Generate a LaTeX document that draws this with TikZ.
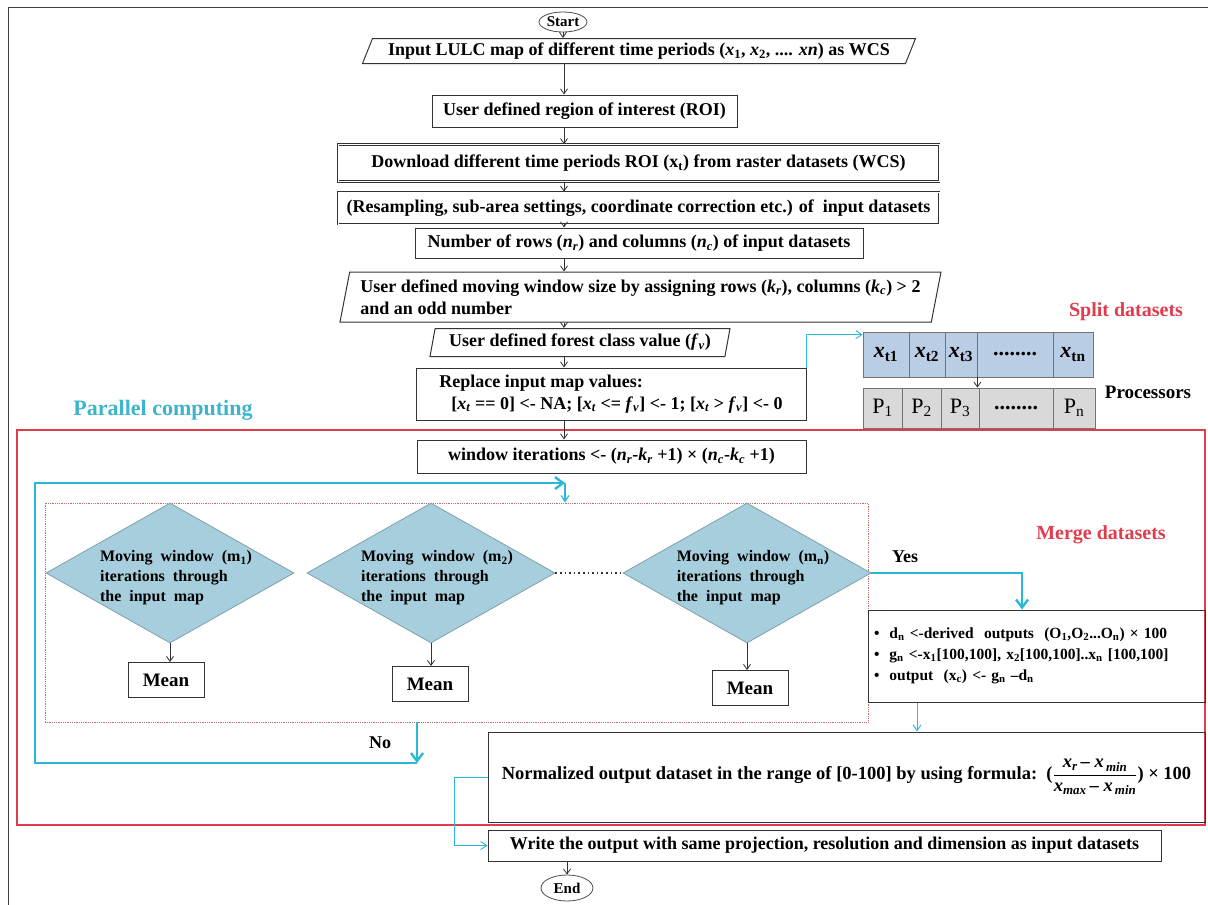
\documentclass[tikz,border=0pt]{standalone}
\usepackage{fontspec}
\setmainfont{Liberation Serif}
\usetikzlibrary{shapes.geometric,arrows.meta}
\definecolor{redline}{RGB}{224,60,76}
\definecolor{cyanline}{RGB}{43,183,214}
\definecolor{cyantext}{RGB}{60,180,205}
\definecolor{diafill}{RGB}{166,206,221}
\definecolor{diadraw}{RGB}{125,160,172}
\definecolor{splitfill}{RGB}{185,205,229}
\definecolor{procfill}{RGB}{217,217,217}
\definecolor{innerline}{RGB}{190,110,110}
\newcommand{\iv}[2]{\textit{#1}\textsubscript{\textit{#2}}}

\begin{document}
\begin{tikzpicture}[x=1pt, y=-1pt,
  every node/.style={inner sep=2pt},
  txt/.style={font=\fontsize{18}{22}\selectfont\bfseries},
  procbox/.style={txt, draw=black!80, line width=1pt, rectangle, align=center},
  dblbox/.style={procbox, double=white, double distance=1pt, line width=0.6pt},
  iobox/.style={txt, draw=black!80, line width=1pt, trapezium, trapezium stretches body, align=center},
  term/.style={draw=black!70, line width=0.8pt, ellipse, inner sep=0pt, font=\fontsize{15}{17}\selectfont\bfseries},
  decision/.style={diamond, draw=diadraw, fill=diafill, line width=0.8pt, inner sep=0pt},
  meanbox/.style={procbox, font=\fontsize{19}{22}\selectfont\bfseries, minimum width=76, minimum height=35},
  splitcell/.style={draw=black!55, fill=splitfill, line width=0.8pt, minimum height=45, inner sep=0pt, font=\fontsize{22}{24}\selectfont\bfseries},
  proccell/.style={draw=black!55, fill=procfill, line width=0.8pt, minimum height=40, inner sep=0pt, font=\fontsize{22}{24}\selectfont},
  arr/.style={draw=black!80, line width=0.8pt, -{Straight Barb[length=5pt,width=7pt]}},
  cyanthin/.style={draw=cyanline, line width=0.9pt, -{Straight Barb[length=6pt,width=8pt]}},
  cyanthick/.style={draw=cyanline, line width=2.4pt},
  cyanarr/.style={cyanthick, -{Straight Barb[length=8pt,width=12pt]}},
  redlabel/.style={text=redline, font=\fontsize{20}{22}\selectfont\bfseries}
]

\useasboundingbox (0,0) rectangle (1208,905);
\draw[black!75, line width=0.8pt] (8,905) -- (8,7) -- (1208,7);
\coordinate (col) at (564,0);

\node (parallel) [draw=redline, line width=2pt, minimum width=1188, minimum height=395, inner sep=0pt] at (611,627.5) {};
\node (inner) [draw=innerline, densely dotted, line width=0.8pt, minimum width=823, minimum height=219, inner sep=0pt] at (456.5,612.5) {};

\node (start) [term, minimum width=48, minimum height=20] at (563,22) {Start};
\node (input) [iobox, trapezium left angle=64, trapezium right angle=116, minimum width=553, minimum height=25] at (639,51)
  {Input LULC map of different time periods (\textit{x}\textsubscript{1}, \textit{x}\textsubscript{2}, .... \textit{xn}) as WCS};
\node (roi) [procbox, minimum width=305, minimum height=32] at (584.5,111) {User defined region of interest (ROI)};
\node (download) [dblbox, minimum width=601, minimum height=37] at (638.5,163)
  {Download different time periods ROI (x\textsubscript{t}) from raster datasets (WCS)};
\node (resamp) [dblbox, minimum width=601, minimum height=32] at (638.5,208)
  {(Resampling, sub-area settings, coordinate correction etc.) of\ \ input datasets};
\node (number) [procbox, minimum width=448, minimum height=30] at (639,243)
  {Number of rows (\iv{n}{r}) and columns (\iv{n}{c}) of input datasets};
\node (moving) [iobox, align=left, trapezium left angle=76, trapezium right angle=104, minimum width=601, minimum height=50] at (640.5,297)
  {User defined moving window size by assigning rows (\iv{k}{r}), columns (\iv{k}{c}) > 2\\ and an odd number};
\node (forest) [iobox, trapezium left angle=76, trapezium right angle=104, minimum width=300, minimum height=28] at (580,342.5)
  {User defined forest class value (\iv{f}{v})};
\node (replace) [procbox, align=left, minimum width=390, minimum height=52] at (611,394)
  {Replace input map values:\\ \hspace*{12pt}[\iv{x}{t} == 0] <- NA; [\iv{x}{t} <= \iv{f}{v}] <- 1; [\iv{x}{t} > \iv{f}{v}] <- 0};
\node (window) [procbox, minimum width=389, minimum height=33] at (611.5,456.5)
  {window iterations <- (\iv{n}{r}-\iv{k}{r} +1) × (\iv{n}{c}-\iv{k}{c} +1)};

\draw[arr] (start.south) -- (start.south |- input.north);
\foreach \a/\b in {input/roi, roi/download, download/resamp, resamp/number, number/moving, moving/forest, forest/replace, replace/window}
  \draw[arr] (\a.south -| col) -- (\b.north -| col);

\foreach \i/\xa/\xb/\lbl in {1/863/909/{\textit{x}\textsubscript{t1}}, 2/909/945/{\textit{x}\textsubscript{t2}}, 3/945/977/{\textit{x}\textsubscript{t3}}, 4/977/1053/{........}, 5/1053/1093/{\textit{x}\textsubscript{tn}}}
  \node (xc\i) [splitcell, minimum width=\xb-\xa] at ({(\xa+\xb)/2},354.5) {\lbl};
\foreach \i/\xa/\xb/\lbl in {1/863/902/{P\textsubscript{1}}, 2/902/941/{P\textsubscript{2}}, 3/941/979/{P\textsubscript{3}}, 4/979/1053/{\textbf{........}}, 5/1053/1095/{P\textsubscript{n}}}
  \node (pc\i) [proccell, minimum width=\xb-\xa] at ({(\xa+\xb)/2},408) {\lbl};
\draw[arr] (xc3.south east) -- (xc3.south east |- pc4.north);
\draw[cyanthin] (replace.north east) |- ([yshift=-3pt]xc1.north west);

\node (splitlabel) [redlabel] at (1126,312) {Split datasets};
\node (proclabel) [font=\fontsize{19}{22}\selectfont\bfseries] at (1148,392) {Processors};
\node (parlabel) [text=cyantext, font=\fontsize{22}{24}\selectfont\bfseries] at (163,410) {Parallel computing};
\node (mergelabel) [redlabel] at (1101,535) {Merge datasets};

\foreach \i/\dx/\mx/\my/\sub in {1/170/166/680/1, 2/431/430/684/2, 3/747/750/688/n} {
  \node (d\i) [decision, minimum width=248, minimum height=140] at (\dx,573) {};
  \node (dt\i) [align=left, font=\fontsize{16}{20}\selectfont\bfseries] at (\dx+6,578)
    {Moving\ \ window\ \ (m\textsubscript{\sub})\\iterations\ \ through\\the\ \ input\ \ map};
  \node (mean\i) [meanbox] at (\mx,\my) {Mean};
  \draw[arr] (d\i.south) -- (d\i.south |- mean\i.north);
}
\draw[black!80, line width=1.6pt, dash pattern=on 1.6pt off 3pt] (d2.east) -- (d3.west);

\node (merge) [procbox, align=left, text width=325, inner xsep=6pt, minimum height=92, font=\fontsize{15.5}{21}\selectfont\bfseries] at (1036.5,656)
  {\textbullet\hspace{10pt}d\textsubscript{n} <-derived\ \ outputs\ \ (O\textsubscript{1},O\textsubscript{2}...O\textsubscript{n}) × 100\\
   \textbullet\hspace{10pt}g\textsubscript{n} <-x\textsubscript{1}[100,100], x\textsubscript{2}[100,100]..x\textsubscript{n} [100,100]\\
   \textbullet\hspace{10pt}output\ \ (x\textsubscript{c}) <- g\textsubscript{n} –d\textsubscript{n}};
\node (norm) [procbox, minimum width=717, minimum height=90, font=\fontsize{18.5}{22}\selectfont\bfseries] at (846.5,777)
  {Normalized output dataset in the range of [0-100] by using formula:\ \ ($\displaystyle\frac{\mbox{\iv{x}{r}\,– \textit{x}\textsubscript{\,\textit{min}}}}{\mbox{\textit{x}\textsubscript{\textit{max}}\,– \textit{x}\textsubscript{\,\textit{min}}}}$) × 100};
\node (write) [procbox, minimum width=673, minimum height=31] at (824.5,845.5)
  {Write the output with same projection, resolution and dimension as input datasets};
\node (finish) [term, minimum width=52, minimum height=26] at (567,888) {End};

\node (yeslabel) [font=\fontsize{18}{20}\selectfont\bfseries] at (905,557) {Yes};
\node (nolabel) [font=\fontsize{18}{20}\selectfont\bfseries] at (380,743) {No};

\coordinate (nodrop) at (417,763);
\coordinate (loopl) at (35,763);
\coordinate (loopt) at (35,483);
\coordinate (loopr) at (565,483);
\draw[cyanarr] (inner.south -| nodrop) -- (nodrop);
\draw[cyanarr] (nodrop) -- (loopl) -- (loopt) -- (loopr);
\draw[cyanthin, line width=1.2pt] (loopr) -- (loopr |- inner.north);

\coordinate (yesdrop) at (1022,0);
\draw[cyanarr] (d3.east) -| (yesdrop |- merge.north);
\coordinate (mergeout) at (917,0);
\draw[cyanthin] (mergeout |- merge.south) -- (mergeout |- norm.north);
\coordinate (sidebar) at (454,0);
\draw[cyanthin] (norm.west) -- (sidebar |- norm.west) -- (sidebar |- write.west) -- (write.west);
\draw[arr] (write.south -| finish.north) -- (finish.north);
\end{tikzpicture}
\end{document}
